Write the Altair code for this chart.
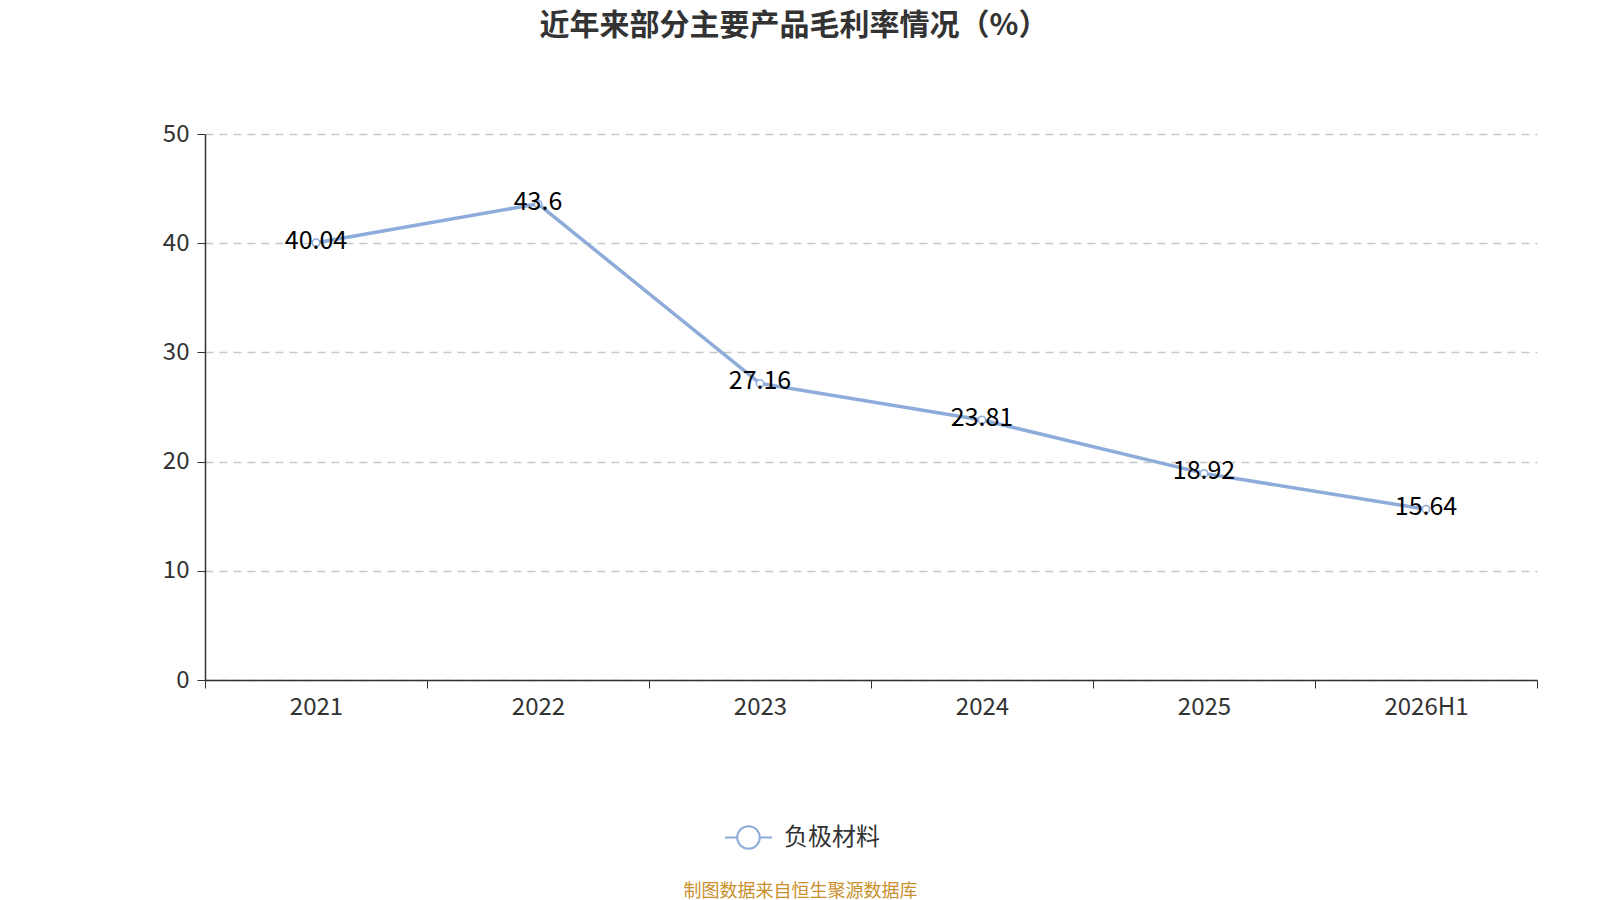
import altair as alt
import pandas as pd

years = ["2021", "2022", "2023", "2024", "2025", "2026H1"]
values = [40.04, 43.6, 27.16, 23.81, 18.92, 15.64]
labels = ["40.04", "43.6", "27.16", "23.81", "18.92", "15.64"]
series = "负极材料"

df = pd.DataFrame({"year": years, "value": values, "label": labels, "series": [series] * len(years)})

FONT = "Noto Sans CJK SC"
LINE_COLOR = "#8eacda"
legend_path = "M-1,0L-0.48,0M0.48,0L1,0M0.48,0A0.48,0.48 0 1,1 -0.48,0A0.48,0.48 0 1,1 0.48,0"

x_enc = alt.X(
    "year:N",
    sort=years,
    scale=alt.Scale(paddingInner=0, paddingOuter=0),
    axis=alt.Axis(
        title="制图数据来自恒生聚源数据库",
        titleColor="#c8902c",
        titleFont=FONT,
        titleFontSize=18,
        titleFontWeight="normal",
        titleX=595,
        titleY=211,
        titleBaseline="middle",
        titleAnchor="start",
        titleAlign="center",
        labelAngle=0,
        labelFont=FONT,
        labelFontSize=24,
        labelColor="#333333",
        labelPadding=7,
        tickBand="extent",
        tickSize=8,
        tickColor="#333333",
        domainColor="#333333",
        domainWidth=1.5,
        grid=False,
    ),
)

y_enc = alt.Y(
    "value:Q",
    scale=alt.Scale(domain=[0, 50]),
    axis=alt.Axis(
        title=None,
        values=[0, 10, 20, 30, 40, 50],
        labelFont=FONT,
        labelFontSize=24,
        labelColor="#333333",
        labelPadding=8,
        tickSize=8,
        tickColor="#333333",
        domainColor="#333333",
        domainWidth=1.5,
        grid=True,
        gridColor="#c8c8c8",
        gridDash=[8, 6],
        gridWidth=1.5,
    ),
)

line = alt.Chart(df).mark_line(
    strokeWidth=3.5,
    point=alt.OverlayMarkDef(filled=False, fill="white", size=55, strokeWidth=1.5, color=LINE_COLOR),
).encode(
    x=x_enc,
    y=y_enc,
    color=alt.Color(
        "series:N",
        scale=alt.Scale(domain=[series], range=[LINE_COLOR]),
        legend=alt.Legend(
            title=None,
            orient="none",
            legendX=519,
            legendY=679,
            padding=0,
            symbolType=legend_path,
            symbolSize=2209,
            symbolStrokeWidth=2,
            symbolFillColor="white",
            labelFont=FONT,
            labelFontSize=24,
            labelColor="#333333",
            labelOffset=11,
        ),
    ),
)

text = alt.Chart(df).mark_text(
    font=FONT, fontSize=25, color="#000000", baseline="middle", dy=-2
).encode(
    x=alt.X("year:N", sort=years),
    y=alt.Y("value:Q"),
    text="label:N",
)

chart = (
    alt.layer(line, text)
    .properties(
        width=1332,
        height=546,
        background="white",
        autosize=alt.AutoSizeParams(type="none"),
        padding={"left": 197, "top": 126, "right": 55, "bottom": 220},
        title=alt.TitleParams(
            "近年来部分主要产品毛利率情况（%）",
            font=FONT,
            fontSize=30,
            fontWeight="bold",
            color="#333333",
            anchor="middle",
            dx=-77,
            offset=81,
        ),
    )
    .configure_view(strokeWidth=0, stroke=None)
)

chart.save("out.html", embed_options={"renderer": "svg", "actions": False})
